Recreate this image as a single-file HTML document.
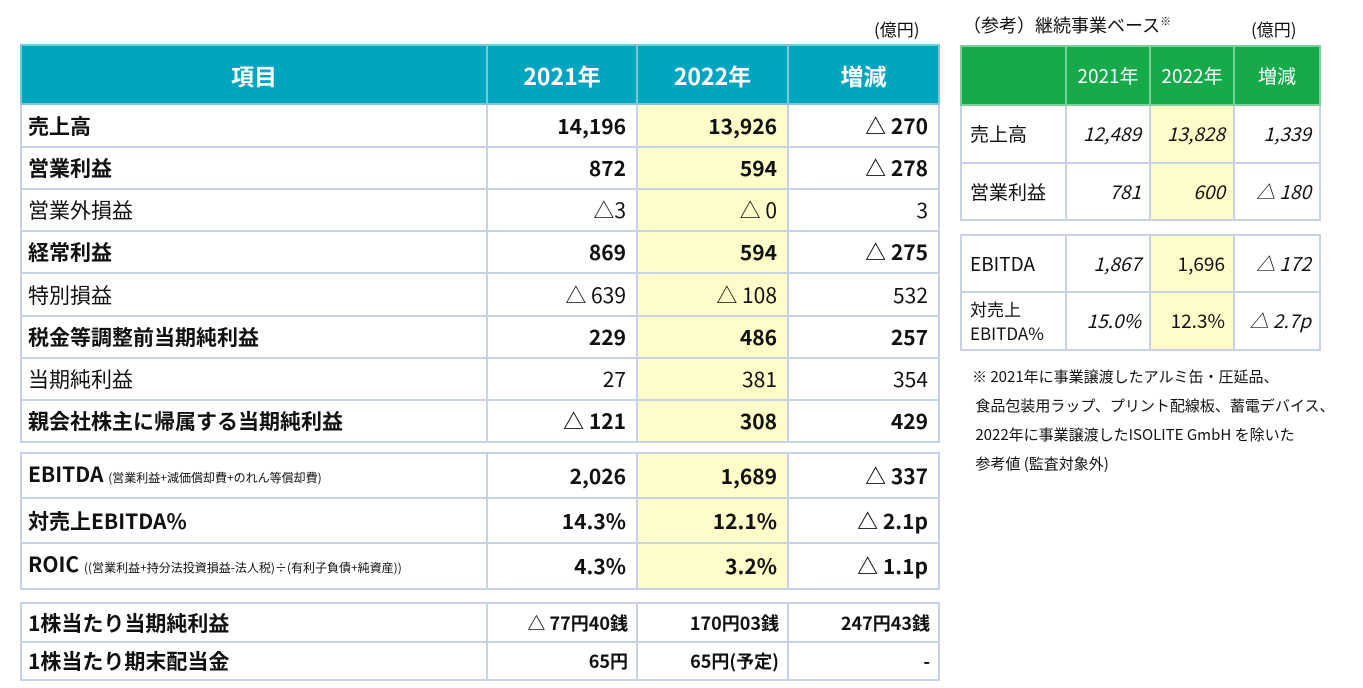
<!DOCTYPE html>
<html><head><meta charset="utf-8"><style>
body{margin:0;width:1363px;height:688px;background:#fff;position:relative;overflow:hidden;font-family:"Noto Sans CJK JP","Liberation Sans",sans-serif;color:#111}
table{position:absolute;border-collapse:collapse;table-layout:fixed}
td,th{border:2px solid #c8d2e6;padding:0 10px;white-space:nowrap;vertical-align:middle;line-height:26px;overflow:hidden}
.L td{font-size:21px;font-weight:bold;text-align:right}
.L td:first-child{text-align:left;padding-left:6px}
.L td.n{font-weight:normal}
.L th{background:#00a5c0;color:#fff;font-size:23px;font-weight:bold;text-align:center;border-color:#7cc8d8}
.y{background:#fefcc8}
.s{font-size:12px;font-weight:normal}
.R td{font-size:19px;font-style:italic;text-align:right;padding:0 8px}
.R td:first-child{font-style:normal;text-align:left}
.R td.u{font-style:normal}
.R th{background:#16aa4b;color:#fff;font-size:19px;font-weight:normal;text-align:center;border-color:#7fcf98}
.t{position:absolute;font-size:17px}
</style></head><body>
<div class="t" style="left:874px;top:16px">(億円)</div>
<table class="L" style="left:20px;top:44px;width:918px">
<colgroup><col style="width:466px"><col style="width:150px"><col style="width:151px"><col style="width:151px"></colgroup>
<tr style="height:59px"><th>項目</th><th>2021年</th><th>2022年</th><th>増減</th></tr>
<tr style="height:43px"><td>売上高</td><td>14,196</td><td class="y">13,926</td><td>△ 270</td></tr>
<tr style="height:42px"><td>営業利益</td><td>872</td><td class="y">594</td><td>△ 278</td></tr>
<tr style="height:42px"><td class="n">営業外損益</td><td class="n">△3</td><td class="y n">△ 0</td><td class="n">3</td></tr>
<tr style="height:42px"><td>経常利益</td><td>869</td><td class="y">594</td><td>△ 275</td></tr>
<tr style="height:43px"><td class="n">特別損益</td><td class="n">△ 639</td><td class="y n">△ 108</td><td class="n">532</td></tr>
<tr style="height:42px"><td>税金等調整前当期純利益</td><td>229</td><td class="y">486</td><td>257</td></tr>
<tr style="height:42px"><td class="n">当期純利益</td><td class="n">27</td><td class="y n">381</td><td class="n">354</td></tr>
<tr style="height:42px"><td>親会社株主に帰属する当期純利益</td><td>△ 121</td><td class="y">308</td><td>429</td></tr>
</table>
<table class="L" style="left:20px;top:452px;width:918px">
<colgroup><col style="width:466px"><col style="width:150px"><col style="width:151px"><col style="width:151px"></colgroup>
<tr style="height:45px"><td>EBITDA <span class="s">(営業利益+減価償却費+のれん等償却費)</span></td><td>2,026</td><td class="y">1,689</td><td>△ 337</td></tr>
<tr style="height:45px"><td>対売上EBITDA%</td><td>14.3%</td><td class="y">12.1%</td><td>△ 2.1p</td></tr>
<tr style="height:46px"><td>ROIC <span class="s">((営業利益+持分法投資損益-法人税)÷(有利子負債+純資産))</span></td><td>4.3%</td><td class="y">3.2%</td><td>△ 1.1p</td></tr>
</table>
<table class="L" style="left:20px;top:602px;width:918px">
<colgroup><col style="width:466px"><col style="width:150px"><col style="width:151px"><col style="width:151px"></colgroup>
<tr style="height:39px"><td>1株当たり当期純利益</td><td style="font-size:18px;padding-right:8px">△ 77円40銭</td><td style="font-size:18px;padding-right:8px">170円03銭</td><td style="font-size:18px;padding-right:8px">247円43銭</td></tr>
<tr style="height:38px"><td>1株当たり期末配当金</td><td style="font-size:18px;padding-right:8px">65円</td><td style="font-size:18px;padding-right:8px">65円(予定)</td><td style="font-size:18px;padding-right:8px">-</td></tr>
</table>
<div class="t" style="left:963px;top:12px;font-size:18px">（参考）継続事業ベース<sup style="font-size:11px">※</sup></div>
<div class="t" style="left:1251px;top:16px">(億円)</div>
<table class="R" style="left:960px;top:45px;width:359px">
<colgroup><col style="width:105px"><col style="width:84px"><col style="width:84px"><col style="width:86px"></colgroup>
<tr style="height:59px"><th></th><th>2021年</th><th>2022年</th><th>増減</th></tr>
<tr style="height:58px"><td>売上高</td><td>12,489</td><td class="y">13,828</td><td>1,339</td></tr>
<tr style="height:57px"><td>営業利益</td><td>781</td><td class="y">600</td><td>△ 180</td></tr>
</table>
<table class="R" style="left:960px;top:234px;width:359px">
<colgroup><col style="width:105px"><col style="width:84px"><col style="width:84px"><col style="width:86px"></colgroup>
<tr style="height:57px"><td>EBITDA</td><td>1,867</td><td class="y u">1,696</td><td>△ 172</td></tr>
<tr style="height:58px"><td style="font-size:17px;line-height:24px">対売上<br>EBITDA%</td><td>15.0%</td><td class="y u">12.3%</td><td>△ 2.7p</td></tr>
</table>
<div class="t" style="left:972px;top:362px;font-size:15px;line-height:29px">※ 2021年に事業譲渡したアルミ缶・圧延品、<br>&nbsp;食品包装用ラップ、プリント配線板、蓄電デバイス、<br>&nbsp;2022年に事業譲渡したISOLITE GmbH を除いた<br>&nbsp;参考値 (監査対象外)</div>
</body></html>
